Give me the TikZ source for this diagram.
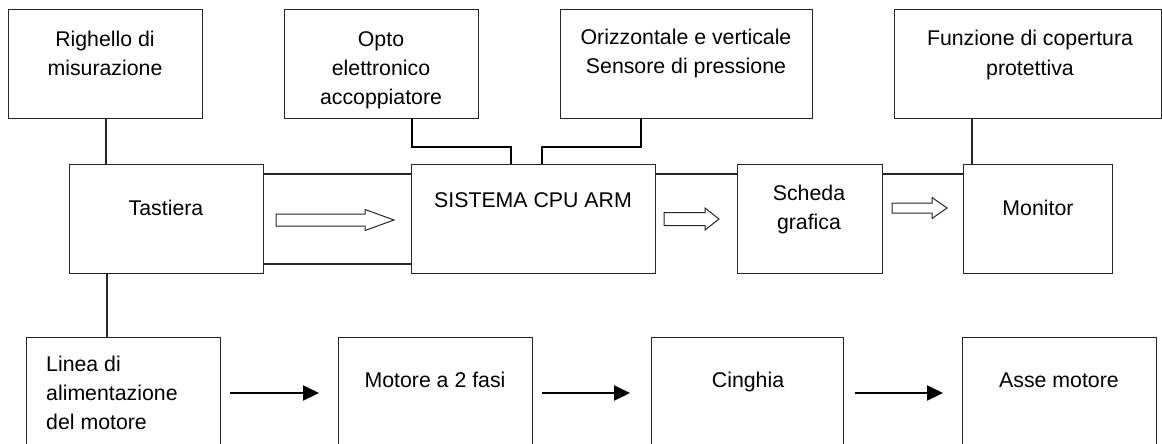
\documentclass[tikz,border=0pt]{standalone}
\usepackage{fontspec}
\setmainfont{Liberation Sans}
\usetikzlibrary{arrows.meta}
\newcommand\hollowarr[6]{%
  \draw[harrow] (#1,#3-#5) -- (#4,#3-#5) -- (#4,#3-#6) -- (#2,#3) -- (#4,#3+#6) -- (#4,#3+#5) -- (#1,#3+#5) -- cycle;}
\begin{document}
\begin{tikzpicture}[x=1pt,y=-1pt,
  box/.style={draw=black!85, line width=1.3pt, inner sep=0pt, anchor=north west},
  txt/.style={font=\fontsize{21.3}{29}\selectfont, align=center, inner sep=0pt, anchor=base},
  conn/.style={draw=black!85, line width=1.3pt},
  boldconn/.style={draw=black, line width=2.3pt},
  harrow/.style={draw=black!85, line width=1pt, fill=white},
  barrow/.style={draw=black, line width=2pt, -{Triangle[length=16pt,width=15pt]}}]
\useasboundingbox (0,0) rectangle (1162,444);
% boxes
\node[box, minimum width=194pt, minimum height=109pt] (rig) at (8,9) {};
\node[box, minimum width=194pt, minimum height=109pt] (opto) at (284,9) {};
\node[box, minimum width=252pt, minimum height=109pt] (oriz) at (560,9) {};
\node[box, minimum width=267pt, minimum height=109pt] (funz) at (894,9) {};
\node[box, minimum width=194pt, minimum height=109pt] (tast) at (69,164) {};
\node[box, minimum width=244pt, minimum height=109pt] (cpu) at (411,164) {};
\node[box, minimum width=145pt, minimum height=109pt] (sched) at (737,164) {};
\node[box, minimum width=149pt, minimum height=109pt] (mon) at (963,164) {};
\node[box, minimum width=194pt, minimum height=112pt] (linea) at (26,337) {};
\node[box, minimum width=194pt, minimum height=112pt] (motore) at (338,337) {};
\node[box, minimum width=192pt, minimum height=112pt] (cinghia) at (651,337) {};
\node[box, minimum width=194pt, minimum height=112pt] (asse) at (962,337) {};
% texts (multi-line nodes: base = last line's baseline)
\node[txt] (trig) at (105,76) {Righello di\\misurazione};
\node[txt] (topto) at (381,104) {Opto\\elettronico\\accoppiatore};
\node[txt] (toriz) at (686,74) {Orizzontale e verticale\\Sensore di pressione};
\node[txt] (tfunz) at (1030,75) {Funzione di copertura\\protettiva};
\node[txt] (ttast) at (166,215) {Tastiera};
\node[txt] (tcpu) at (533,207) {SISTEMA CPU ARM};
\node[txt] (tsched) at (809,229) {Scheda\\grafica};
\node[txt] (tmon) at (1038,215) {Monitor};
\node[txt, align=left, anchor=base west] (tlinea) at (46,429) {Linea di\\alimentazione\\del motore};
\node[txt] (tmotore) at (435,387) {Motore a 2 fasi};
\node[txt] (tcinghia) at (748,387) {Cinghia};
\node[txt] (tasse) at (1059,387) {Asse motore};
% coordinates
\coordinate (x106) at (106,0);
\coordinate (x107) at (107,0);
\coordinate (y174) at (0,174);
\coordinate (y264) at (0,264);
\coordinate (x972) at (972,0);
\coordinate (o1) at (412,147);
\coordinate (o2) at (511,147);
\coordinate (s1) at (641,147);
\coordinate (s2) at (542,147);
\coordinate (ar) at (0,393);
% connectors
\draw[conn] (x106 |- rig.south) -- (x106 |- tast.north);
\draw[conn] (x107 |- tast.south) -- (x107 |- linea.north);
\draw[conn] (tast.east |- y174) -- (cpu.west |- y174);
\draw[conn] (tast.east |- y264) -- (cpu.west |- y264);
\draw[conn] (cpu.east |- y174) -- (sched.west |- y174);
\draw[conn] (sched.east |- y174) -- (mon.west |- y174);
\draw[conn] (x972 |- funz.south) -- (x972 |- mon.north);
\draw[boldconn] (o1 |- opto.south) -- (o1) -- (o2) -- (o2 |- cpu.north);
\draw[boldconn] (s1 |- oriz.south) -- (s1) -- (s2) -- (s2 |- cpu.north);
% hollow arrows
\hollowarr{276}{394}{220}{365}{6}{10.5}
\hollowarr{664}{719}{219}{705}{6.5}{11}
\hollowarr{892}{947}{208}{932}{5}{10.5}
% black arrows
\draw[barrow, shorten <=9pt, shorten >=19pt] (linea.east |- ar) -- (motore.west |- ar);
\draw[barrow, shorten <=9pt, shorten >=21pt] (motore.east |- ar) -- (cinghia.west |- ar);
\draw[barrow, shorten <=11pt, shorten >=19pt] (cinghia.east |- ar) -- (asse.west |- ar);
\end{tikzpicture}
\end{document}
